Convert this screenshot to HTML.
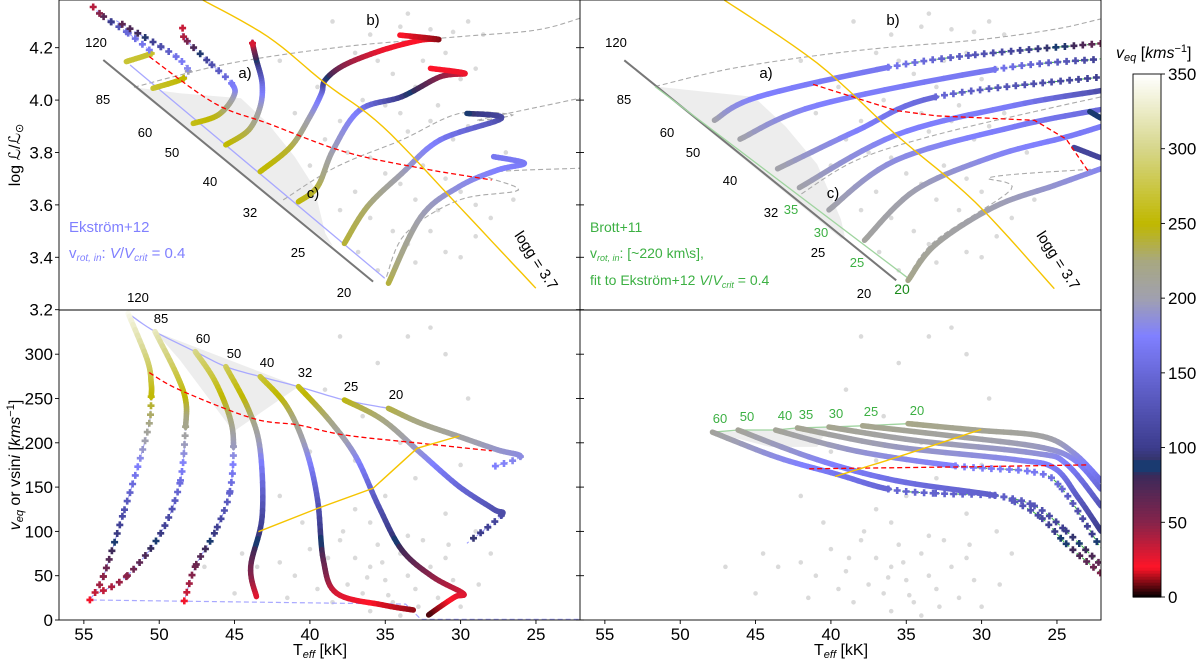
<!DOCTYPE html>
<html><head><meta charset="utf-8"><style>
body{margin:0;background:#fff;}
svg{display:block;font-family:"Liberation Sans","DejaVu Sans",sans-serif;}
</style></head><body>
<svg id="fig" width="1200" height="661" viewBox="0 0 1200 661" xmlns="http://www.w3.org/2000/svg">
<defs>
<clipPath id="cTL"><rect x="59" y="0" width="521" height="310"/></clipPath>
<clipPath id="cTR"><rect x="580" y="0" width="521" height="310"/></clipPath>
<clipPath id="cBL"><rect x="59" y="310" width="521" height="310"/></clipPath>
<clipPath id="cBR"><rect x="580" y="310" width="521" height="310"/></clipPath>
</defs>
<g id="gTL" clip-path="url(#cTL)"></g>
<g id="gTR" clip-path="url(#cTR)"></g>
<g id="gBL" clip-path="url(#cBL)"></g>
<g id="gBR" clip-path="url(#cBR)"></g>
<g id="gAx"></g>
<g id="gCb"></g>
</svg>
<script>
// ---------- data ----------
const teffTicks = [55,50,45,40,35,30,25];
const logLTicks = [4.2,4.0,3.8,3.6,3.4,3.2];
const veqTicks = [0,50,100,150,200,250,300];
const cbTicks = [0,50,100,150,200,250,300,350];

// top-left: Ekstrom+12 HRD tracks
const tlMass = ['120','85','60','50','40','32','25','20'];
const tlTeff = [
 [52.18,50.53,50.66,52.18,53.20,53.96,54.60],
 [50.41,48.38,48.12,48.88,49.90,51.42,52.94],
 [47.74,46.09,45.07,45.20,46.85,48.38,48.38],
 [45.58,44.06,43.30,43.17,43.55,43.81,43.81],
 [43.30,41.27,40.0,39.23,38.98,37.71,35.17,32.63,31.49,34.03],
 [40.76,39.49,38.47,36.69,33.90,31.36,29.71,32.00],
 [37.71,36.19,33.90,31.36,27.30,29.58],
 [34.79,32.63,30.09,27.55,25.77,27.81]];
const tlLogL = [
 [4.147,4.178,4.191,4.261,4.299,4.331,4.369],
 [4.045,4.083,4.121,4.166,4.204,4.255,4.306],
 [3.911,3.943,4.013,4.064,4.153,4.242,4.287],
 [3.829,3.886,3.975,4.064,4.153,4.217,4.236],
 [3.727,3.822,3.937,4.026,4.077,4.134,4.191,4.229,4.232,4.248],
 [3.612,3.670,3.809,3.962,4.013,4.089,4.102,4.121],
 [3.453,3.593,3.720,3.848,3.930,3.949],
 [3.301,3.555,3.670,3.733,3.759,3.784]];
const tlVeq = [
 [270,265,170,150,100,50,30],
 [270,250,180,160,120,80,60],
 [260,245,200,170,110,40,30],
 [255,235,200,160,90,30,25],
 [255,240,200,160,100,50,25,20,10,20],
 [250,240,200,170,100,50,25,20],
 [240,230,200,170,120,90],
 [240,200,185,175,170,165]];
const tlSparse = [1,1,3,5,9,9,9,9];

// top-right: Brott+11 HRD tracks
const trMass = ['60','50','40','35','30','25','20','hook1','hook2'];
const trTeff = [
 [47.73,44.85,36.19,30.42,22.08],[46.03,40.91,29.11,22.08],[43.54,38.29,33.05,22.08],
 [42.09,35.67,27.80,22.08],[40.13,35.67,27.80,22.08],[37.77,34.36,29.11,24.39,22.08],
 [34.88,33.05,29.11,25.18,22.08],[22.82,22.08],[23.87,22.08]];
const trLogL = [
 [3.923,4.012,4.125,4.173,4.216],[3.851,3.980,4.117,4.157],[3.738,3.883,4.012,4.088],
 [3.666,3.867,3.980,4.036],[3.581,3.771,3.899,3.964],[3.465,3.658,3.787,3.859,3.899],
 [3.312,3.449,3.594,3.674,3.738],[3.956,3.931],[3.819,3.779]];
const trVeq = [
 [205,175,165,130,60],[205,175,165,100],[205,175,150,100],
 [205,175,170,120],[205,185,170,150],[210,200,180,170,170],
 [220,210,200,190,180],[90,90],[110,110]];
const trSparse = [2,2,2,9,9,9,9,9,9];

// bottom-left: Ekstrom+12 veq vs Teff
const blMass = ['120','85','60','50','40','32','25','20'];
const blTeff = [
 [52.06,50.79,50.53,50.53,50.66,51.42,52.44,53.71,54.60],
 [50.28,48.88,48.25,48.25,48.63,49.9,52.18,54.09],
 [47.61,46.34,45.33,45.07,45.33,46.34,47.61,48.38],
 [45.58,44.06,43.30,43.17,43.93,43.55],
 [43.30,41.52,40.25,39.49,39.11,38.22,35.17,33.14],
 [40.76,38.73,36.95,35.43,33.90,31.87,29.84,30.34,31.36,32.12],
 [37.71,35.17,32.63,30.09,27.81,27.3,29.58],
 [34.79,32.63,30.09,27.55,26.03,27.81]];
const blVeq = [
 [346,293.5,267,252,222,173,117,49,22.6],
 [325.5,278.5,248.3,218.2,154.3,97.8,49,30.1],
 [302.9,270.9,229.5,195.7,143,97.8,60.2,18.8],
 [286,237,192,116.7,60.2,26.4],
 [274.7,240.8,192,135.5,67.7,30.1,17,11.3],
 [263.4,225.8,184.4,128,79,49,30.1,26.4,15,5.7],
 [248.3,225.8,188.1,150.5,125,118,86.6],
 [238.9,222,207,192,184.4,173]];
const blSparse = [3,3,3,9,9,9,5,4];

// bottom-right: Brott+11 veq vs Teff
const brMass = ['60','50','40','35','30','25','20'];
const brTeff = [
 [47.86,43.54,39.60,36.19,33.05,29.11,27.80,25.97,24.39,22.08],
 [46.16,40.91,35.67,29.11,26.49,24.39,22.08],
 [43.67,38.29,31.73,26.49,24.65,22.08],
 [42.22,35.67,27.80,25.18,23.61,22.08],
 [40.13,34.36,26.49,24.39,22.08],
 [37.90,31.73,26.23,23.87,22.08],
 [34.88,30.42,25.97,23.87,22.08]];
const brVeq = [
 [212,183.5,164.5,147.8,143,140.6,133.5,114.5,86,52.6],
 [214.4,181,157.3,140.6,128.8,100.3,62.2],
 [214.4,190.6,173.9,166.8,147.8,81],
 [216.8,195.4,181,171.5,138.6,100.3],
 [217.8,202.6,188.3,176.4,128.8],
 [219.2,207.3,195.4,181,147.8],
 [221.6,214.4,207.3,188.3,157.3]];
const brSparse = [3,3,2,9,9,9,9];

// reference lines
const tlRedT = [50.66,46.34,42.79,37.71,32.63,27.93];
const tlRedL = [4.166,3.988,3.911,3.803,3.740,3.695];
const tlGoldT = [47.11,42.79,38.98,35.17,30.09,25.01];
const tlGoldL = [4.382,4.242,4.064,3.899,3.593,3.282];
const trRedT = [41.18,35.67,33.05,26.49,24.39,22.95];
const trRedL = [4.060,3.960,3.940,3.923,3.851,3.730];
const trGoldT = [47.08,40.91,35.67,30.42,25.18];
const trGoldL = [4.382,4.141,3.867,3.610,3.280];
const blRedT = [50.66,48.63,43.81,40.76,37.71,32.63,27.93];
const blRedV = [279.2,259.6,227.6,220.1,208.8,199.4,191];
const blGoldT = [43.42,39.49,35.81,32.89,30.09];
const blGoldV = [99.7,126,148.6,193.8,207.7];
const brRedT = [41.44,30.42,22.95];
const brRedV = [170.7,173,175];
const brGoldT = [39.73,35.67,30.03];
const brGoldV = [162,183.5,215];

// observed stars
const obsTeffL = [38.5,36,34,33.5,32,30.5,29.5,28.5,37,35.5,34.5,33,32.5,31,30,29,36.5,35,34,33.5,32,31.5,30.5,29.5,28.5,38,39,37.5,36,35,34,33,32.5,31,30,29,28,37,36,34.5,33.5,32,31,30,29,40,41,39.5,42,27,26.5,33,35.5,31.5,38,36.8];
const obsLogL = [4.30,4.25,4.28,4.33,4.27,4.26,4.30,4.25,4.18,4.15,4.10,4.05,4.15,4.18,4.08,4.12,4.00,3.98,3.95,3.88,3.92,3.98,3.85,3.90,3.95,3.92,3.85,3.80,3.78,3.72,3.68,3.62,3.75,3.70,3.65,3.60,3.55,3.65,3.55,3.50,3.45,3.50,3.42,3.40,3.48,3.75,3.95,4.05,4.15,3.80,3.62,3.38,3.35,3.58,3.58,3.42];
const obsTeffV = [42,40,39,38,37.5,37,36.5,36,35.5,35,34.5,34,33.5,33,32.5,32,31.5,31,30.5,30,38.5,36,34,39.5,41,43.5,44.5,40.5,37,35,33,31,29,28,30,34,36.5,39,35.5,33.5,38,31,29.5,37,40,42,47,32,36,33.5,37.8,35.2,38.8,32.8,30.8,28.8,45,41.5,36.2,34.8];
const obsVeq = [65,80,55,90,40,70,30,60,85,45,20,75,50,35,90,60,25,70,45,15,20,10,5,35,50,60,75,110,125,140,160,120,100,75,175,200,230,260,290,320,320,300,250,180,190,140,60,330,110,95,100,65,70,15,85,40,30,25,48,28];

// ---------- helpers ----------
const NS='http://www.w3.org/2000/svg';
function mk(parent, tag, attrs, name){
  const e=document.createElementNS(NS,tag);
  for(const k in attrs) e.setAttribute(k,attrs[k]);
  
  
  parent.appendChild(e); return e;
}
const X0L=59, X0R=580, KX=15.07, TMAX=56.65;
const xL = t => X0L + (TMAX - t)*KX;
const xR = t => X0R + (TMAX - t)*KX;
const yLum = l => (4.382 - l)*262;
const yVel = v => 620 - v*0.886;

const stops=[[0,[0,0,0]],[20,[255,20,40]],[50,[134,35,74]],[82,[58,42,90]],[85,[26,58,112]],[92,[26,58,112]],[93,[53,53,110]],[100,[60,60,140]],[150,[104,104,216]],[175,[128,128,255]],[200,[160,160,176]],[225,[168,168,128]],[250,[192,184,0]],[300,[214,214,138]],[350,[255,255,255]]];
function cmap(v){
  v=Math.max(0,Math.min(350,v));
  for(let i=0;i<stops.length-1;i++){
    const a=stops[i],b=stops[i+1];
    if(v<=b[0]){const f=(v-a[0])/(b[0]-a[0]||1);
      const c=a[1].map((x,j)=>Math.round(x+(b[1][j]-x)*f));
      return 'rgb('+c.join(',')+')';}
  }
  return '#fff';
}
function cr(p0,p1,p2,p3,t){
  const t2=t*t,t3=t2*t;
  return 0.5*((2*p1)+(-p0+p2)*t+(2*p0-5*p1+4*p2-p3)*t2+(-p0+3*p1-3*p2+p3)*t3);
}
function smoothPts(xs,ys,n){
  const out=[];
  for(let i=0;i<xs.length-1;i++){
    const i0=Math.max(0,i-1),i3=Math.min(xs.length-1,i+2);
    for(let k=0;k<n;k++){const t=k/n;
      out.push([cr(xs[i0],xs[i],xs[i+1],xs[i3],t),cr(ys[i0],ys[i],ys[i+1],ys[i3],t)]);}
  }
  out.push([xs[xs.length-1],ys[ys.length-1]]);
  return out;
}
function pts(xf,yf,T,Y){return T.map((t,i)=>xf(t).toFixed(1)+','+yf(Y[i]).toFixed(1)).join(' ');}
function polyline(g,xf,yf,T,Y,style,name){
  return mk(g,'polyline',Object.assign({points:pts(xf,yf,T,Y),fill:'none'},style),name);
}
function smoothLine(g,xf,yf,T,Y,style,name){
  const p=smoothPts(T.map(xf),Y.map(yf),8);
  return mk(g,'polyline',Object.assign({points:p.map(q=>q[0].toFixed(1)+','+q[1].toFixed(1)).join(' '),fill:'none'},style),name);
}
function drawTrack(g,xf,yf,T,Y,V,sparse,dashCol,name){
  const tg=mk(g,'g',{},name);
  const xs=T.map(xf), ys=Y.map(yf), n=T.length;
  for(let i=0;i<n-1;i++){
    const i0=Math.max(0,i-1),i3=Math.min(n-1,i+2);
    const sub=10, P=[];
    for(let k=0;k<=sub;k++){const t=k/sub;
      P.push([cr(xs[i0],xs[i],xs[i+1],xs[i3],t),cr(ys[i0],ys[i],ys[i+1],ys[i3],t),V[i]+(V[i+1]-V[i])*t]);}
    if(i<sparse){
      for(let k=0;k<sub;k++){
        mk(tg,'line',{x1:P[k][0],y1:P[k][1],x2:P[k+1][0],y2:P[k+1][1],
          stroke:cmap((P[k][2]+P[k+1][2])/2),'stroke-width':5.5,'stroke-linecap':'round'},'track-segment');
      }
    } else {
      mk(tg,'polyline',{points:P.map(q=>q[0].toFixed(1)+','+q[1].toFixed(1)).join(' '),fill:'none',stroke:dashCol,'stroke-width':1,'stroke-dasharray':'4,3'},'track-dashed');
      let acc=0;
      for(let k=0;k<sub;k++){
        const seg=Math.hypot(P[k+1][0]-P[k][0],P[k+1][1]-P[k][1]);
        let d=acc===0?0:9-acc;
        while(d<=seg){
          const f=seg?d/seg:0, cx=P[k][0]+(P[k+1][0]-P[k][0])*f, cy=P[k][1]+(P[k+1][1]-P[k][1])*f;
          const c=cmap(P[k][2]+(P[k+1][2]-P[k][2])*f);
          mk(tg,'path',{d:`M${(cx-3.5).toFixed(1)},${cy.toFixed(1)}H${(cx+3.5).toFixed(1)}M${cx.toFixed(1)},${(cy-3.5).toFixed(1)}V${(cy+3.5).toFixed(1)}`,stroke:c,'stroke-width':2.6},'track-cross');
          d+=9;
        }
        acc=(acc+seg)%9; if(acc===0)acc=0.001;
      }
    }
  }
}
function text(g,x,y,s,attrs,name){
  const e=mk(g,'text',Object.assign({x:x,y:y},attrs||{}),name);
  e.innerHTML=s; return e;
}

// ---------- panels ----------
const gTL=document.getElementById('gTL'), gTR=document.getElementById('gTR'),
      gBL=document.getElementById('gBL'), gBR=document.getElementById('gBR');
const dashGrey={stroke:'#aaa','stroke-width':1.1,'stroke-dasharray':'5,3'};
const redDash={stroke:'#f00','stroke-width':1.3,'stroke-dasharray':'5,3'};
const gold={stroke:'#f5c400','stroke-width':1.4};

function scatter(g,xf,yf,T,Y){
  T.forEach((t,i)=>{mk(g,'circle',{cx:xf(t),cy:yf(Y[i]),r:2.3,fill:'#bbb','fill-opacity':0.55},'observed-star');});
}
scatter(gTL,xL,yLum,obsTeffL,obsLogL);
scatter(gTR,xR,yLum,obsTeffL,obsLogL);
scatter(gBL,xL,yVel,obsTeffV,obsVeq);
scatter(gBR,xR,yVel,obsTeffV,obsVeq);

// --- top-left
mk(gTL,'polygon',{points:pts(xL,yLum,[51.68,48.63,44.57,42.79,41.01,39.74,38.98,38.47],[4.049,4.026,4.007,3.911,3.784,3.670,3.491,3.441]),fill:'#e8e8e8','fill-opacity':0.8},'mass-range-shade');
smoothLine(gTL,xL,yLum,[51.68,45.33,37.71,30.09,25.01,22.09],[4.049,4.140,4.204,4.242,4.267,4.312],dashGrey,'nonrot-track');
smoothLine(gTL,xL,yLum,[41.77,38.22,33.90,30.09,26.54,28.83,22.09],[3.619,3.746,3.848,3.949,3.943,3.924,4.007],dashGrey,'nonrot-track');
smoothLine(gTL,xL,yLum,[34.92,33.65,30.09,26.16,28.32,22.09],[3.326,3.491,3.619,3.657,3.720,3.740],dashGrey,'nonrot-track');
polyline(gTL,xL,yLum,[53.71,35.81],[4.153,3.307],{stroke:'#777','stroke-width':2},'zams-line');
polyline(gTL,xL,yLum,[51.93,35.04],[4.134,3.320],{stroke:'#a8a8ff','stroke-width':1.3},'zams-rot-line');
tlMass.forEach((m,i)=>drawTrack(gTL,xL,yLum,tlTeff[i],tlLogL[i],tlVeq[i],tlSparse[i],'#9999ff','track-'+m));
smoothLine(gTL,xL,yLum,tlRedT,tlRedL,redDash,'tams-line');
smoothLine(gTL,xL,yLum,tlGoldT,tlGoldL,gold,'logg-line');

// --- top-right
mk(gTR,'polygon',{points:pts(xR,yLum,[51.67,45.11,43.01,40.91,39.34,39.08,39.3],[4.052,4.012,3.899,3.755,3.545,3.481,3.470]),fill:'#e8e8e8','fill-opacity':0.8},'mass-range-shade');
smoothLine(gTR,xR,yLum,[51.67,46.16,38.29,30.42,25.18,22.08],[4.052,4.125,4.189,4.229,4.270,4.310],dashGrey,'nonrot-track');
smoothLine(gTR,xR,yLum,[41.96,38.29,33.05,26.49,22.08],[3.642,3.771,3.867,3.956,4.012],dashGrey,'nonrot-track');
smoothLine(gTR,xR,yLum,[34.88,33.05,28.05,29.36,22.08],[3.328,3.465,3.658,3.706,3.738],dashGrey,'nonrot-track');
polyline(gTR,xR,yLum,[53.71,35.67],[4.152,3.312],{stroke:'#777','stroke-width':2},'zams-line');
polyline(gTR,xR,yLum,[51.67,34.88],[4.052,3.320],{stroke:'#9fd49f','stroke-width':1.3},'zams-rot-line');
trMass.forEach((m,i)=>drawTrack(gTR,xR,yLum,trTeff[i],trLogL[i],trVeq[i],trSparse[i],'#3cb043','track-'+m));
polyline(gTR,xR,yLum,trRedT,trRedL,redDash,'tams-line');
smoothLine(gTR,xR,yLum,trGoldT,trGoldL,gold,'logg-line');

// --- bottom-left
mk(gBL,'polygon',{points:pts(xL,yVel,[50.28,40.76,45.07,48.63],[325.5,263.4,212.6,293.5]),fill:'#e8e8e8','fill-opacity':0.8},'mass-range-shade');
polyline(gBL,xL,yVel,[54.47,33.65,32.63,22.09],[22.6,18,0.8,0.8],{stroke:'#a8a8ff','stroke-width':1.2,'stroke-dasharray':'5,3'},'end-line');
smoothLine(gBL,xL,yVel,blMass.map((m,i)=>blTeff[i][0]),blMass.map((m,i)=>blVeq[i][0]),{stroke:'#a8a8ff','stroke-width':1.3},'zams-veq-line');
blMass.forEach((m,i)=>drawTrack(gBL,xL,yVel,blTeff[i],blVeq[i],blVeq[i],blSparse[i],'#9999ff','track-'+m));
smoothLine(gBL,xL,yVel,blRedT,blRedV,redDash,'tams-line');
polyline(gBL,xL,yVel,blGoldT,blGoldV,gold,'logg-line');

// --- bottom-right
mk(gBR,'polygon',{points:pts(xR,yVel,[47.86,40.13,40.91,44.06],[212,217.8,195.4,195.4]),fill:'#e8e8e8','fill-opacity':0.8},'mass-range-shade');
polyline(gBR,xR,yVel,brMass.map((m,i)=>brTeff[i][0]),brMass.map((m,i)=>brVeq[i][0]),{stroke:'#9fd49f','stroke-width':1.3},'zams-veq-line');
brMass.forEach((m,i)=>drawTrack(gBR,xR,yVel,brTeff[i],brVeq[i],brVeq[i],brSparse[i],'#3cb043','track-'+m));
polyline(gBR,xR,yVel,brRedT,brRedV,redDash,'tams-line');
smoothLine(gBR,xR,yVel,brGoldT,brGoldV,gold,'logg-line');

// ---------- labels ----------
const gAx=document.getElementById('gAx');
const sm={'font-size':13,'text-anchor':'middle',fill:'#000'};
const lblTL=[['120',96,47],['85',103,104],['60',145,137],['50',172,157],['40',210,186],['32',250,217],['25',298,257],['20',344,297],['120',138,302]];
lblTL.forEach(a=>text(gAx,a[1],a[2],a[0],sm,'mass-label'));
const lblTR=[['120',616,47],['85',624,104],['60',667,137],['50',693,157],['40',730,185],['32',771,217],['25',818,257],['20',864,298]];
lblTR.forEach(a=>text(gAx,a[1],a[2],a[0],sm,'mass-label'));
const gr={'font-size':13,'text-anchor':'middle',fill:'#3cb043'};
[['35',791,214],['30',821,237],['25',857,267],['20',902,294]].forEach(a=>text(gAx,a[1],a[2],a[0],a[0]==='20'?Object.assign({},gr,{fill:'#1a8a1a','font-size':14}):gr,'brott-mass-label'));
[['85',161,323],['60',203,343],['50',234,358],['40',267,367],['32',305,377],['25',351,391],['20',396,399]].forEach(a=>text(gAx,a[1],a[2],a[0],sm,'mass-label'));
[['60',720,423],['50',747,421],['40',785,420],['35',806,419],['30',836,418],['25',871,416],['20',917,415]].forEach(a=>text(gAx,a[1],a[2],a[0],gr,'brott-mass-label'));
const lab={'font-size':15,'text-anchor':'middle'};
[['a)',245,78],['b)',373,25],['c)',313,198],['a)',766,78],['b)',893,25],['c)',833,198]].forEach(a=>text(gAx,a[1],a[2],a[0],lab,'region-label'));
text(gAx,532,263,'logg = 3.7',{'font-size':15,'text-anchor':'middle',transform:'rotate(57 532 263)'},'logg-label');
text(gAx,1054,263,'logg = 3.7',{'font-size':15,'text-anchor':'middle',transform:'rotate(57 1054 263)'},'logg-label');
text(gAx,69,232,'Ekström+12',{'font-size':15,fill:'#8080ff'},'legend-ekstrom');
text(gAx,69,258,'v<tspan font-size="10" dy="3" font-style="italic">rot, in</tspan><tspan dy="-3">: </tspan><tspan font-style="italic">V</tspan>/<tspan font-style="italic">V</tspan><tspan font-size="10" dy="3" font-style="italic">crit</tspan><tspan dy="-3"> = 0.4</tspan>',{'font-size':15,fill:'#8080ff'},'legend-ekstrom-vrot');
text(gAx,590,232,'Brott+11',{'font-size':14,fill:'#3cb043'},'legend-brott');
text(gAx,590,258,'v<tspan font-size="9" dy="3" font-style="italic">rot, in</tspan><tspan dy="-3">: [~220 km\\s],</tspan>',{'font-size':14,fill:'#3cb043'},'legend-brott-vrot');
text(gAx,590,285,'fit to Ekström+12 <tspan font-style="italic">V</tspan>/<tspan font-style="italic">V</tspan><tspan font-size="9" dy="3" font-style="italic">crit</tspan><tspan dy="-3"> = 0.4</tspan>',{'font-size':14,fill:'#3cb043'},'legend-brott-fit');

// ---------- axes ----------
const ax={stroke:'#000','stroke-width':0.9,fill:'none'};
mk(gAx,'rect',Object.assign({x:59,y:0,width:1042,height:620},ax),'plot-frame');
mk(gAx,'line',Object.assign({x1:580,y1:0,x2:580,y2:620},ax),'panel-divider-v');
mk(gAx,'line',Object.assign({x1:59,y1:310,x2:1101,y2:310},ax),'panel-divider-h');
const tk={'font-size':17,'text-anchor':'end',fill:'#000'};
logLTicks.forEach(l=>{const y=yLum(l);
  mk(gAx,'line',{x1:55,y1:y,x2:59,y2:y,stroke:'#000','stroke-width':0.9},'y-tick');
  mk(gAx,'line',{x1:576,y1:y,x2:584,y2:y,stroke:'#000','stroke-width':0.9},'y-tick-inner');
  text(gAx,53,y+6,l.toFixed(1),tk,'y-tick-label');});
veqTicks.forEach(v=>{const y=yVel(v);
  mk(gAx,'line',{x1:55,y1:y,x2:59,y2:y,stroke:'#000','stroke-width':0.9},'y-tick');
  mk(gAx,'line',{x1:576,y1:y,x2:584,y2:y,stroke:'#000','stroke-width':0.9},'y-tick-inner');
  text(gAx,53,y+6,String(v),tk,'y-tick-label');});
teffTicks.forEach(t=>{[xL(t),xR(t)].forEach(x=>{
  mk(gAx,'line',{x1:x,y1:620,x2:x,y2:624,stroke:'#000','stroke-width':0.9},'x-tick');
  text(gAx,x,640,String(t),{'font-size':17,'text-anchor':'middle'},'x-tick-label');});});
text(gAx,320,655,'T<tspan font-size="11" dy="3" font-style="italic">eff</tspan><tspan dy="-3"> [kK]</tspan>',{'font-size':16,'text-anchor':'middle'},'x-axis-title');
text(gAx,841,655,'T<tspan font-size="11" dy="3" font-style="italic">eff</tspan><tspan dy="-3"> [kK]</tspan>',{'font-size':16,'text-anchor':'middle'},'x-axis-title');
text(gAx,0,0,'log <tspan font-style="italic">ℒ</tspan>/<tspan font-style="italic">ℒ</tspan><tspan font-size="11" dy="3">⊙</tspan>',{'font-size':16,'text-anchor':'middle',transform:'translate(20 155) rotate(-90)'},'y-axis-title-top');
text(gAx,0,0,'<tspan font-style="italic">v</tspan><tspan font-size="11" dy="3" font-style="italic">eq</tspan><tspan dy="-3"> or vsin</tspan><tspan font-style="italic">i</tspan> [<tspan font-style="italic">kms</tspan><tspan font-size="11" dy="-6">−1</tspan><tspan dy="6">]</tspan>',{'font-size':16,'text-anchor':'middle',transform:'translate(20 465) rotate(-90)'},'y-axis-title-bottom');

// ---------- colorbar ----------
const gCb=document.getElementById('gCb');
const cbX=1133,cbW=28,cbTop=74,cbBot=597;
const cbY=v=>cbBot-(cbBot-cbTop)*v/350;
for(let v=0;v<350;v+=2){
  mk(gCb,'rect',{x:cbX,y:cbY(v+2),width:cbW,height:cbY(v)-cbY(v+2)+0.6,fill:cmap(v+1)},'colorbar-cell');
}
mk(gCb,'rect',{x:cbX,y:cbTop,width:cbW,height:cbBot-cbTop,fill:'none',stroke:'#000','stroke-width':0.9},'colorbar-frame');
cbTicks.forEach(v=>{const y=cbY(v);
  mk(gCb,'line',{x1:cbX+cbW,y1:y,x2:cbX+cbW+4,y2:y,stroke:'#000','stroke-width':0.9},'colorbar-tick');
  text(gCb,cbX+cbW+7,y+6,String(v),{'font-size':17},'colorbar-tick-label');});
text(gCb,1116,58,'<tspan font-style="italic">v</tspan><tspan font-size="11" dy="3" font-style="italic">eq</tspan><tspan dy="-3"> [</tspan><tspan font-style="italic">kms</tspan><tspan font-size="11" dy="-6">−1</tspan><tspan dy="6">]</tspan>',{'font-size':16},'colorbar-title');
</script>
</body></html>
